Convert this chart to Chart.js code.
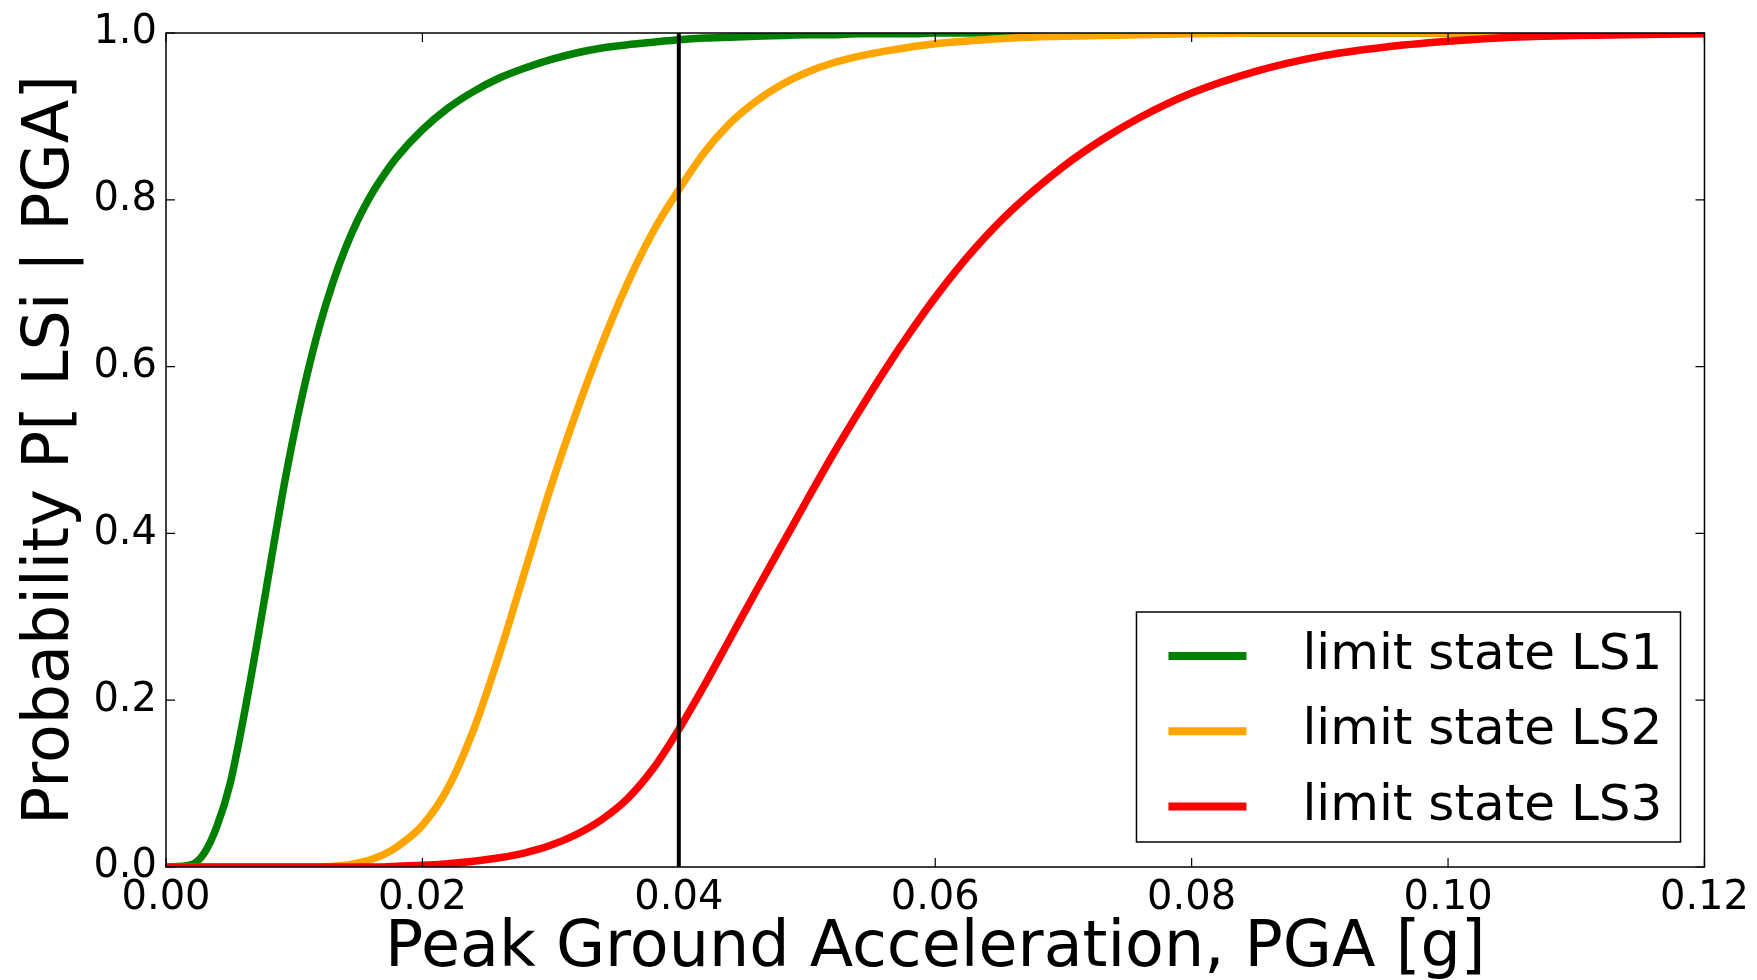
<!DOCTYPE html>
<html>
<head>
<meta charset="utf-8">
<script src="https://cdn.jsdelivr.net/npm/chart.js@4.4.1/dist/chart.umd.min.js"></script>
<style>
  html, body { margin: 0; padding: 0; background: #fff; }
  #wrap { width: 1757px; height: 980px; }
</style>
</head>
<body>
<div id="wrap"><canvas id="fragility" width="1757" height="980"></canvas></div>
<script>
// PGA [g] sample points
const pga = [0, 0.002, 0.003, 0.004, 0.005, 0.006, 0.007, 0.008, 0.009, 0.010,
  0.011, 0.012, 0.013, 0.014, 0.015, 0.016, 0.017, 0.018, 0.020, 0.022,
  0.024, 0.026, 0.028, 0.030, 0.032, 0.034, 0.036, 0.038, 0.040, 0.042,
  0.044, 0.046, 0.048, 0.050, 0.052, 0.054, 0.056, 0.058, 0.060, 0.063,
  0.066, 0.070, 0.073, 0.076, 0.080, 0.085, 0.090, 0.095, 0.100, 0.105,
  0.110, 0.120];

const ls1 = [0, 0.003, 0.017, 0.05, 0.10, 0.175, 0.26, 0.35, 0.44, 0.52,
  0.59, 0.65, 0.70, 0.742, 0.777, 0.806, 0.83, 0.851, 0.884, 0.91,
  0.93, 0.946, 0.958, 0.968, 0.976, 0.982, 0.986, 0.989, 0.992, 0.994,
  0.995, 0.996, 0.997, 0.998, 0.998, 0.999, 0.999, 0.999, 1, 1,
  1, 1, 1, 1, 1, 1, 1, 1, 1, 1,
  1, 1];

const ls2 = [0, 0, 0, 0, 0, 0, 0, 0, 0, 0,
  0, 0, 0.001, 0.002, 0.005, 0.009, 0.015, 0.024, 0.05, 0.095,
  0.165, 0.255, 0.355, 0.455, 0.545, 0.627, 0.70, 0.762, 0.812, 0.857,
  0.892, 0.918, 0.938, 0.953, 0.964, 0.972, 0.978, 0.983, 0.987, 0.991,
  0.994, 0.996, 0.997, 0.998, 0.999, 1, 1, 1, 1, 1,
  1, 1];

const ls3 = [0, 0, 0, 0, 0, 0, 0, 0, 0, 0,
  0, 0, 0, 0, 0, 0, 0, 0.001, 0.002, 0.004,
  0.007, 0.011, 0.017, 0.026, 0.039, 0.057, 0.082, 0.118, 0.165, 0.218,
  0.274, 0.33, 0.385, 0.44, 0.494, 0.545, 0.594, 0.64, 0.683, 0.74,
  0.788, 0.84, 0.872, 0.899, 0.928, 0.954, 0.972, 0.983, 0.990, 0.995,
  0.997, 0.999];

const markerPga = 0.04;

const seriesLabels = ['limit state LS1', 'limit state LS2', 'limit state LS3'];
const seriesColors = ['#008000', '#ffa500', '#ff0000'];

const xTickValues = [0, 0.02, 0.04, 0.06, 0.08, 0.10, 0.12];
const xTickLabels = ['0.00', '0.02', '0.04', '0.06', '0.08', '0.10', '0.12'];
const yTickValues = [0, 0.2, 0.4, 0.6, 0.8, 1.0];
const yTickLabels = ['0.0', '0.2', '0.4', '0.6', '0.8', '1.0'];

const xTitle = 'Peak Ground Acceleration, PGA [g]';
const yTitle = 'Probability P[ LSi | PGA]';

const FONT = 'DejaVu Sans';

function curve(values, i) {
    return {
        label: seriesLabels[i],
        data: pga.map((x, k) => ({ x: x, y: values[k] })),
        borderColor: seriesColors[i],
        borderWidth: 7.5,
        pointRadius: 0,
        fill: false,
        cubicInterpolationMode: 'monotone',
        clip: 0,
        order: 3 - i
    };
}

// inward ticks on all four sides + the axes box
const frameTicks = {
    id: 'frameTicks',
    afterDatasetsDraw(chart) {
        const { ctx, chartArea: a, scales: { x, y } } = chart;
        ctx.save();
        ctx.strokeStyle = '#000';
        ctx.lineWidth = 1.5;
        ctx.strokeRect(a.left, a.top, a.right - a.left, a.bottom - a.top);
        ctx.lineWidth = 1.2;
        ctx.beginPath();
        x.ticks.forEach(t => {
            const px = x.getPixelForValue(t.value);
            ctx.moveTo(px, a.bottom); ctx.lineTo(px, a.bottom - 9);
            ctx.moveTo(px, a.top); ctx.lineTo(px, a.top + 9);
        });
        y.ticks.forEach(t => {
            const py = y.getPixelForValue(t.value);
            ctx.moveTo(a.left, py); ctx.lineTo(a.left + 9, py);
            ctx.moveTo(a.right, py); ctx.lineTo(a.right - 9, py);
        });
        ctx.stroke();
        ctx.restore();
    }
};

// legend box in the lower right corner of the plot
const boxLegend = {
    id: 'boxLegend',
    afterDraw(chart) {
        const { ctx, chartArea: a } = chart;
        const items = chart.data.datasets.filter(d => d.label);
        const w = 544, h = 230;
        const left = a.right - 24 - w;
        const top = a.bottom - 25 - h;
        ctx.save();
        ctx.fillStyle = '#fff';
        ctx.fillRect(left, top, w, h);
        ctx.strokeStyle = '#000';
        ctx.lineWidth = 1.5;
        ctx.strokeRect(left, top, w, h);
        ctx.font = '50px "' + FONT + '"';
        ctx.textBaseline = 'middle';
        ctx.textAlign = 'left';
        items.forEach((d, i) => {
            const cy = top + 44 + i * 75.3;
            ctx.strokeStyle = d.borderColor;
            ctx.lineWidth = 8;
            ctx.beginPath();
            ctx.moveTo(left + 32, cy);
            ctx.lineTo(left + 110, cy);
            ctx.stroke();
            ctx.fillStyle = '#000';
            ctx.fillText(d.label, left + 166, cy);
        });
        ctx.restore();
    }
};

const ctx = document.getElementById('fragility').getContext('2d');
const myChart = new Chart(ctx, {
    type: 'line',
    data: {
        datasets: [
            {
                label: '',
                data: [{ x: markerPga, y: 0 }, { x: markerPga, y: 1 }],
                borderColor: '#000',
                borderWidth: 4,
                pointRadius: 0,
                clip: 0,
                order: 0
            },
            curve(ls1, 0),
            curve(ls2, 1),
            curve(ls3, 2)
        ]
    },
    options: {
        responsive: false,
        animation: false,
        devicePixelRatio: 1,
        layout: { padding: { left: 0, top: 30, right: 48, bottom: 0 } },
        plugins: {
            legend: { display: false },
            tooltip: { enabled: false }
        },
        scales: {
            x: {
                type: 'linear',
                min: 0,
                max: 0.12,
                grid: { display: false, drawTicks: false },
                border: { display: false },
                ticks: {
                    autoSkip: false,
                    maxRotation: 0,
                    padding: 8,
                    color: '#000',
                    font: { family: FONT, size: 40 },
                    callback: (v, i) => xTickLabels[i]
                },
                afterBuildTicks: s => { s.ticks = xTickValues.map(v => ({ value: v })); },
                afterFit: s => { s.height = 113; },
                title: {
                    display: true,
                    text: xTitle,
                    color: '#000',
                    font: { family: FONT, size: 63.5, lineHeight: 0.95 },
                    padding: 0
                }
            },
            y: {
                type: 'linear',
                min: 0,
                max: 1,
                grid: { display: false, drawTicks: false },
                border: { display: false },
                ticks: {
                    autoSkip: false,
                    padding: 9,
                    color: '#000',
                    font: { family: FONT, size: 40 },
                    callback: (v, i) => yTickLabels[i]
                },
                afterBuildTicks: s => { s.ticks = yTickValues.map(v => ({ value: v })); },
                afterFit: s => { s.width = 166; },
                title: {
                    display: true,
                    text: yTitle,
                    color: '#000',
                    font: { family: FONT, size: 63.5, lineHeight: 1.1 },
                    padding: { top: 17, bottom: 0 }
                }
            }
        }
    },
    plugins: [frameTicks, boxLegend]
});
</script>
</body>
</html>
